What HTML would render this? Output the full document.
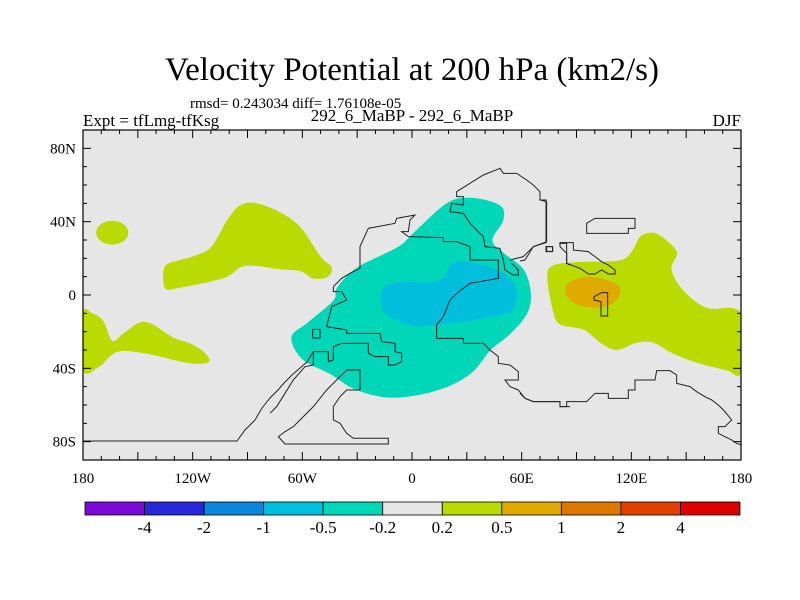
<!DOCTYPE html>
<html><head><meta charset="utf-8"><style>
html,body{margin:0;padding:0;background:#fff;}
svg{display:block;font-family:"Liberation Serif",serif;}
</style></head><body>
<svg id="chart" width="800" height="600" viewBox="0 0 800 600">
<text x="412" y="80" font-size="33" text-anchor="middle">Velocity Potential at 200 hPa (km2/s)</text>
<text x="190" y="108" font-size="15">rmsd= 0.243034 diff= 1.76108e-05</text>
<text x="83" y="126" font-size="17">Expt = tfLmg-tfKsg</text>
<text x="412" y="121" font-size="17" text-anchor="middle">292_6_MaBP - 292_6_MaBP</text>
<text x="741" y="126" font-size="17" text-anchor="end">DJF</text>
<rect x="83" y="130" width="658" height="330" fill="#e6e6e6"/>
<g id="fills"></g>
<g fill="none" stroke="#222" stroke-width="1">
 <polyline points="83,441 237,441 245,430 255,420 262,408 270,398 278,390 285,382 292,375 300,368 307,362 313,352"/>
 <g transform="translate(270,160) scale(0.3333)">
  <polyline vector-effect="non-scaling-stroke" points="230,630 270,630 270,690 230,690 210,710 190,740 190,780 210,790 230,820 250,835 355,835 355,852 45,852 25,830 45,815 70,800 100,770 130,740 150,715 170,690 190,670 210,650 230,630"/>
  <polyline vector-effect="non-scaling-stroke" points="190,380 215,355 240,340 270,325 270,260 295,205 375,190 380,175 435,165 420,180 415,215 395,215 415,230 520,233 520,245 560,245 600,260 600,300 685,300 685,355 600,370 560,400 540,420 520,470 500,495 500,535 580,535 580,550 640,550 660,570 685,590 685,610 720,615 745,635 745,660 705,660 720,680 745,690 765,715 790,725 870,725 870,740 900,740"/>
  <polyline vector-effect="non-scaling-stroke" points="190,380 190,395 215,395 230,420 185,440 170,500 230,510 230,520 330,520 335,545 375,550 375,575 395,580 395,605 375,615 355,615 355,590 315,590 295,580 295,550 215,550 190,560 190,600 175,605 175,575 130,575 130,615 105,620 70,660 45,700 20,740 0,760"/>
  <rect vector-effect="non-scaling-stroke" x="128" y="508" width="22" height="26"/>
  <polyline vector-effect="non-scaling-stroke" points="560,95 600,70 640,45 690,25 700,40 740,40 770,60 790,75 810,95 810,120 830,125 830,245 790,260 760,290 720,300"/>
  <polyline vector-effect="non-scaling-stroke" points="560,95 560,110 580,110 580,135 545,130 540,155 580,160 600,190 640,230 645,260 690,265 700,300 705,330 730,345 745,345 745,330 725,310"/>
  <rect vector-effect="non-scaling-stroke" x="830" y="260" width="18" height="14"/>
  <polyline vector-effect="non-scaling-stroke" points="868,250 890,250 890,310 900,315"/>
 </g>
 <g transform="translate(520,200) scale(0.3333)">
  <polyline vector-effect="non-scaling-stroke" points="60,0 78,0 78,128 40,140 15,180 0,183"/>
  <polygon vector-effect="non-scaling-stroke" points="200,70 225,55 345,55 345,85 325,85 325,100 200,100"/>
  <rect vector-effect="non-scaling-stroke" x="78" y="140" width="20" height="15"/>
  <polygon vector-effect="non-scaling-stroke" points="120,128 160,128 160,150 205,155 225,170 245,185 265,195 285,210 285,222 265,222 245,210 225,222 205,222 180,205 140,190 140,160 120,140"/>
  <polygon vector-effect="non-scaling-stroke" points="222,290 245,278 263,278 263,348 243,348 243,305 222,300"/>
  <polyline vector-effect="non-scaling-stroke" points="0,580 15,595 40,605 120,605 120,620 140,620 140,605 200,605 225,580 265,580 265,595 325,595 325,570 345,570 345,540 405,540 410,512 450,512 470,525 470,550 510,560 530,575 555,590 575,600 595,615 615,635 635,660 615,680 595,680 595,700 615,710 635,720 650,730 665,735"/>
 </g>
</g>
<g id="axes"></g>
<rect x="83" y="130" width="658" height="330" fill="none" stroke="#000" stroke-width="1.2"/>
<g id="colorbar"></g>
</svg>
<script>
const levelLabels = ["-4","-2","-1","-0.5","-0.2","0.2","0.5","1","2","4"];
const levelColors = ["#7b0ad8","#2828d8","#0a87d8","#00bedc","#00d7b9","#e6e6e6","#badb00","#e0aa00","#dc7800","#e04000","#dc0000"];
const lonTicks = [-180,-120,-60,0,60,120,180];
const lonTickLabels = ["180","120W","60W","0","60E","120E","180"];
const latTicks = [80,40,0,-40,-80];
const latTickLabels = ["80N","40N","0","40S","80S"];
// contour regions: [lon, lat] vertices
const tealRegion = [[-66,-23],[-57,-15],[-43,-3],[-41,4],[-30,15],[-8,26],[1,34],[19,50],[32,53],[48,49],[50,41],[44,30],[50,23],[61,14],[65,1],[63,-10],[54,-21],[43,-30],[32,-43],[14,-52],[-10,-56],[-30,-52],[-45,-43],[-60,-35]];
const blueRegion = [[-16,3],[-8,7],[8,7],[17,9],[22,17],[32,18],[50,12],[57,3],[55,-8],[43,-12],[25,-15],[4,-17],[-8,-14],[-16,-8]];
const eastGreenRegion = [[74,10],[77,16],[90,18],[114,19],[121,25],[125,32],[132,34],[139,30],[145,23],[142,14],[148,3],[161,-7],[180,-10],[180,-42],[172,-41],[156,-37],[143,-32],[132,-26],[123,-26],[112,-30],[103,-26],[94,-19],[81,-16],[77,-8]];
const orangeRegion = [[84,4],[88,8],[97,10],[110,7],[114,3],[111,-4],[101,-7],[90,-5],[85,-1]];
const nwGreenRegion = [[-135,16],[-127,19],[-120,21],[-110,26],[-101,41],[-94,49],[-85,50],[-72,45],[-61,37],[-50,21],[-44,15],[-46,10],[-54,9],[-61,13],[-72,14],[-87,16],[-94,15],[-101,10],[-112,7],[-127,4],[-134,3],[-136,7]];
const swGreenRegion = [[-180,-10],[-175,-10],[-169,-14],[-164,-25],[-158,-21],[-149,-15],[-142,-16],[-131,-23],[-120,-27],[-112,-33],[-112,-37],[-123,-37],[-145,-32],[-161,-31],[-171,-39],[-180,-41]];
const smallGreenCenter = [-164,34];
const smallGreenRadius = [8.8,6.5];

const NS="http://www.w3.org/2000/svg";
const X0=83,X1=741,Y0=130,Y1=460;
function xLon(l){return X0+(l+180)/360*(X1-X0);}
function yLat(l){return Y0+(90-l)/180*(Y1-Y0);}
function mk(tag,attrs,parent){const e=document.createElementNS(NS,tag);for(const k in attrs)e.setAttribute(k,attrs[k]);parent.appendChild(e);return e;}
function smoothPath(pts){
  const p=pts.map(d=>[xLon(d[0]),yLat(d[1])]);const n=p.length;
  let s="M"+p[0][0].toFixed(1)+","+p[0][1].toFixed(1);
  for(let i=0;i<n;i++){
    const p0=p[(i-1+n)%n],p1=p[i],p2=p[(i+1)%n],p3=p[(i+2)%n];
    const c1=[p1[0]+(p2[0]-p0[0])/6,p1[1]+(p2[1]-p0[1])/6];
    const c2=[p2[0]-(p3[0]-p1[0])/6,p2[1]-(p3[1]-p1[1])/6];
    s+="C"+c1[0].toFixed(1)+","+c1[1].toFixed(1)+" "+c2[0].toFixed(1)+","+c2[1].toFixed(1)+" "+p2[0].toFixed(1)+","+p2[1].toFixed(1);
  }
  return s+"Z";
}
const fills=document.getElementById("fills");
const cp=mk("clipPath",{id:"mapclip"},fills);
mk("rect",{x:X0,y:Y0,width:X1-X0,height:Y1-Y0},cp);
fills.setAttribute("clip-path","url(#mapclip)");
const regions=[[tealRegion,4,"teal-region"],[blueRegion,3,"blue-region"],[eastGreenRegion,6,"east-green-region"],[orangeRegion,7,"orange-region"],[nwGreenRegion,6,"northwest-green-region"],[swGreenRegion,6,"southwest-green-region"]];
regions.forEach(r=>{
  const el=mk("path",{d:smoothPath(r[0]),fill:levelColors[r[1]]},fills);
  
  
});
const ell=mk("ellipse",{cx:xLon(smallGreenCenter[0]),cy:yLat(smallGreenCenter[1]),rx:smallGreenRadius[0]/360*(X1-X0),ry:smallGreenRadius[1]/180*(Y1-Y0),fill:levelColors[6]},fills);



const axes=document.getElementById("axes");
for(let l=-180;l<=180;l+=10){
  const x=xLon(l),len=(l%30===0)?8:4;
  mk("line",{x1:x,x2:x,y1:Y1,y2:Y1-len,stroke:"#000","stroke-width":1},axes);
  mk("line",{x1:x,x2:x,y1:Y0,y2:Y0+len,stroke:"#000","stroke-width":1},axes);
}
for(let l=-90;l<=90;l+=10){
  const y=yLat(l),len=(l%40===0)?8:4;
  mk("line",{x1:X0,x2:X0+len,y1:y,y2:y,stroke:"#000","stroke-width":1},axes);
  mk("line",{x1:X1,x2:X1-len,y1:y,y2:y,stroke:"#000","stroke-width":1},axes);
}
lonTicks.forEach((l,i)=>{
  const t=mk("text",{x:xLon(l),y:483,"font-size":15,"text-anchor":"middle"},axes);
  t.textContent=lonTickLabels[i];
  
  
});
latTicks.forEach((l,i)=>{
  const t=mk("text",{x:76,y:yLat(l)+5,"font-size":15,"text-anchor":"end"},axes);
  t.textContent=latTickLabels[i];
  
  
});
const cb=document.getElementById("colorbar");
const cbX0=85,cbX1=740,cbY=502,cbH=13,w=(cbX1-cbX0)/levelColors.length;
levelColors.forEach((c,i)=>{
  const r=mk("rect",{x:cbX0+i*w,y:cbY,width:w,height:cbH,fill:c,stroke:"#000","stroke-width":0.8},cb);
  
  
});
levelLabels.forEach((s,i)=>{
  const t=mk("text",{x:cbX0+(i+1)*w,y:533,"font-size":17,"text-anchor":"middle"},cb);
  t.textContent=s;
  
  
});
</script>
</body></html>
